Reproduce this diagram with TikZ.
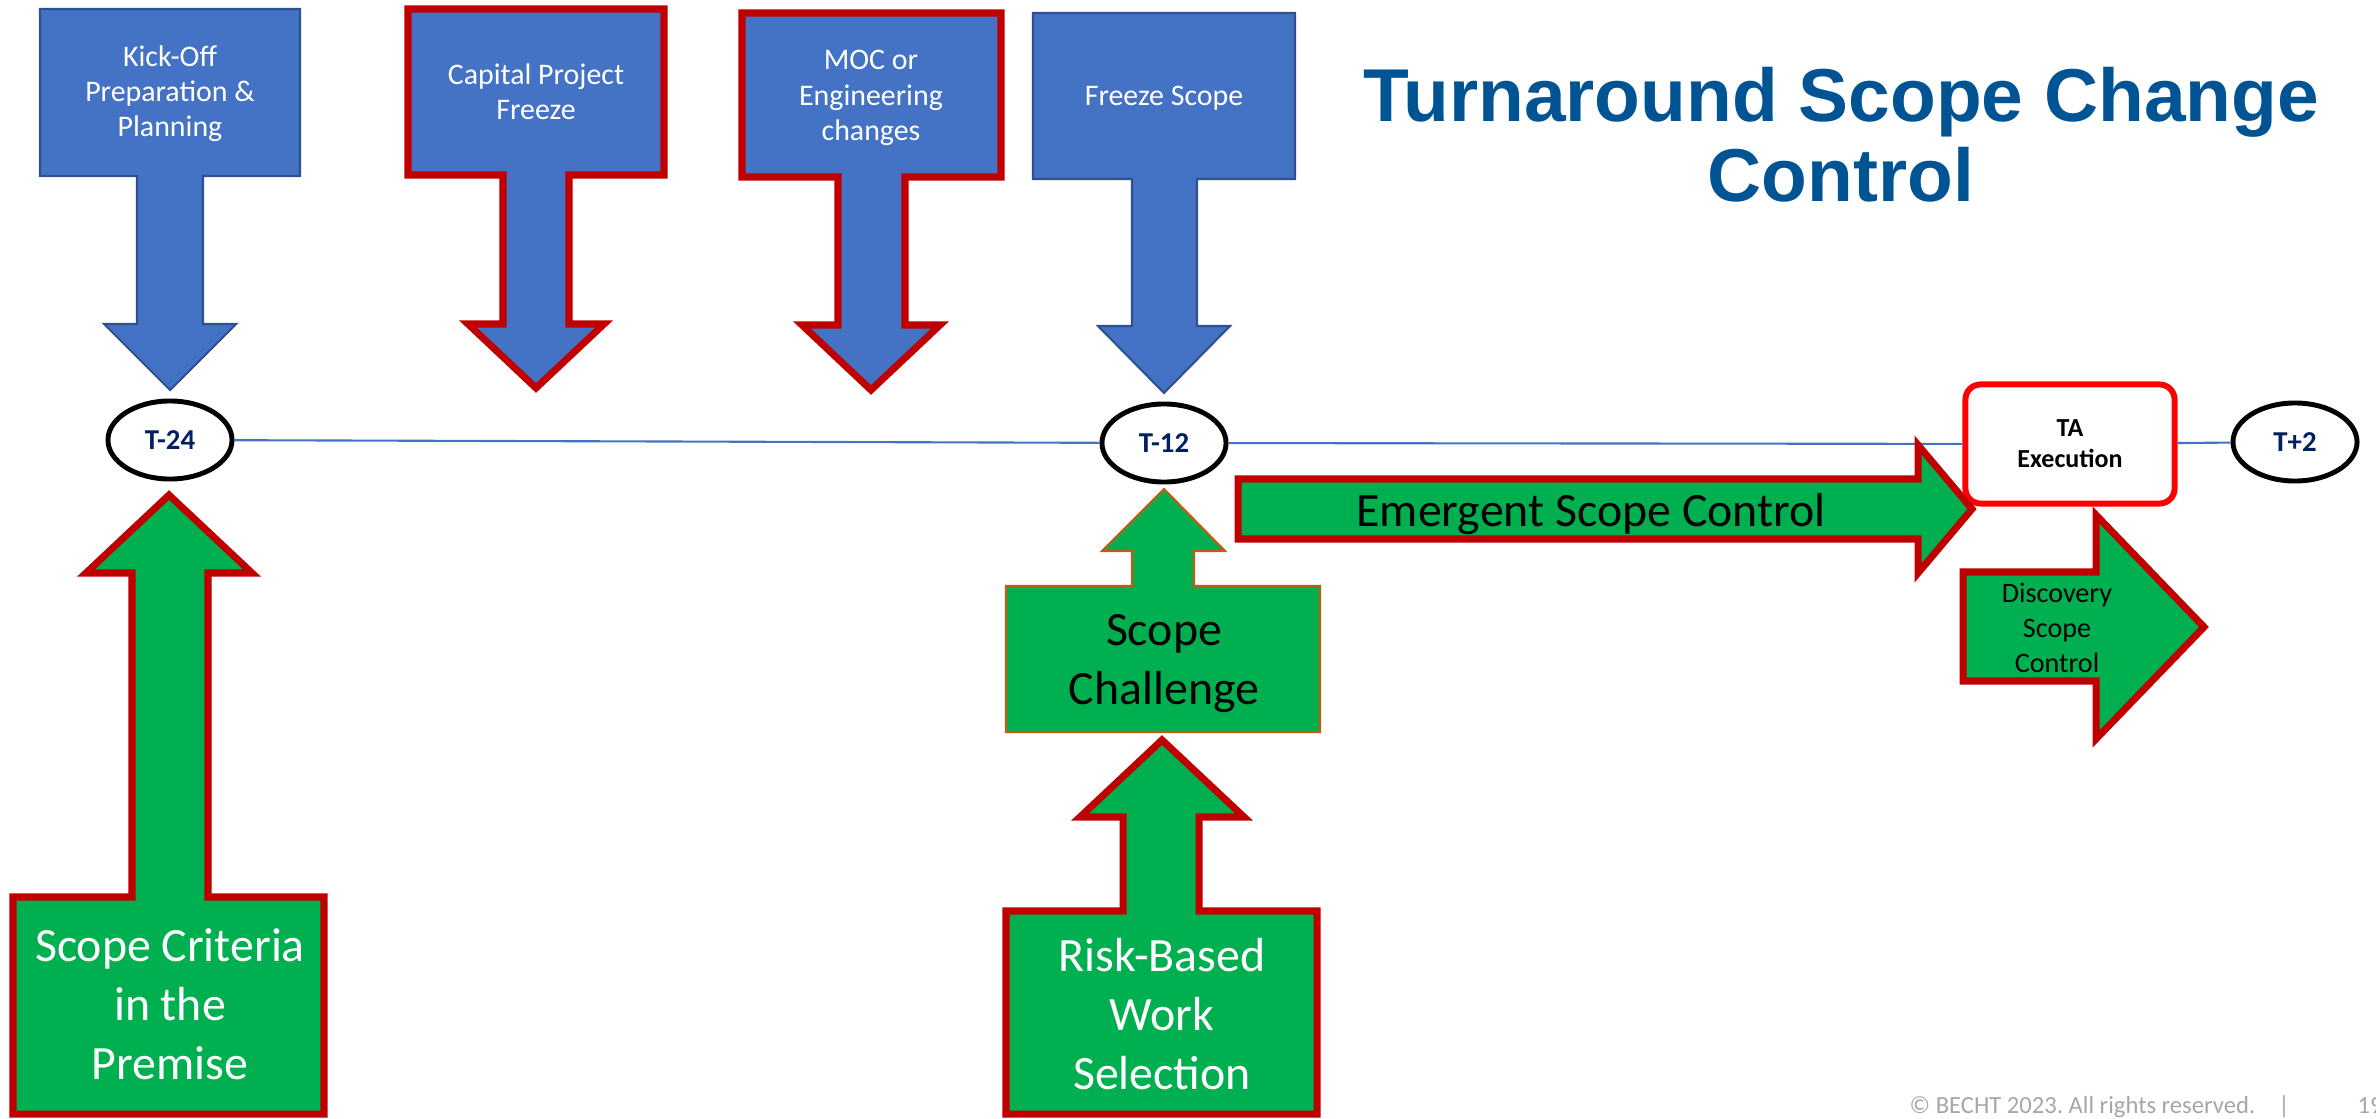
\documentclass[tikz,border=0pt]{standalone}
\usepackage{fontspec}
\setmainfont{Carlito}
\newfontfamily\titlefont{Liberation Sans}
\usetikzlibrary{shapes.geometric}
\definecolor{boxblue}{HTML}{4472C4}
\definecolor{edgeblue}{HTML}{2F528F}
\definecolor{scopegreen}{HTML}{00B050}
\definecolor{darkred}{HTML}{C00000}
\definecolor{brightred}{HTML}{FF0000}
\definecolor{rust}{HTML}{C55A11}
\definecolor{titleblue}{RGB}{0,84,148}
\definecolor{navy}{RGB}{0,32,96}
\definecolor{footgray}{HTML}{A6A6A6}
\tikzset{
  bluecallout/.style={fill=boxblue, draw=edgeblue, line width=0.6pt},
  redcallout/.style={fill=boxblue, draw=darkred, line width=2pt},
  greencallout/.style={fill=scopegreen, draw=darkred, line width=2pt},
  challengebox/.style={fill=scopegreen, draw=rust, line width=0.6pt},
  milestone/.style={ellipse, draw=black, fill=white, line width=1.4pt,
    minimum width=1.24cm, minimum height=0.78cm, inner sep=0pt,
    font=\fontsize{8.2}{9}\selectfont\bfseries, text=navy},
  timeline/.style={draw=boxblue, line width=0.6pt},
  smalltext/.style={align=center, text=white, font=\fontsize{8.5}{10}\selectfont},
  bigtext/.style={align=center, font=\fontsize{13.6}{16.8}\selectfont},
  foottext/.style={text=footgray, inner sep=0pt, font=\fontsize{7}{8}\selectfont}
}
\begin{document}
\frenchspacing
\begin{tikzpicture}[x=0.01cm, y=-0.01cm]
    \useasboundingbox (0,0) rectangle (2376,1118);
    % time line
    \node[milestone] (t24) at ( 170,440) {T-24};
    \node[milestone] (t12) at (1164,443) {T-12};
    \node[milestone] (t2)  at (2295,442) {T+2};
    \node[draw=brightred, fill=white, line width=1.7pt, rounded corners=0.15cm,
          minimum width=2.09cm, minimum height=1.19cm, align=center,
          font=\fontsize{7.4}{8.8}\selectfont\bfseries] (ta) at (2070,444) {TA\\Execution};
    \draw[timeline] (t24) -- (t12);
    \draw[timeline] (t12) -- (ta);
    \draw[timeline] (ta)  -- (t2);
    % callouts from above
    \draw[bluecallout] (40,9) -- (300,9) -- (300,176) -- (203,176) -- (203,324) -- (236,324)
        -- (170,390) -- (104,324) -- (137,324) -- (137,176) -- (40,176) -- cycle;
    \draw[redcallout] (408,9) -- (664,9) -- (664,175) -- (569,175) -- (569,324) -- (604,324)
        -- (536,388) -- (468,324) -- (503,324) -- (503,175) -- (408,175) -- cycle;
    \draw[redcallout] (742,13) -- (1001,13) -- (1001,177) -- (905,177) -- (905,325) -- (940,325)
        -- (871,390) -- (802,325) -- (838,325) -- (838,177) -- (742,177) -- cycle;
    \draw[bluecallout] (1033,13) -- (1295,13) -- (1295,179) -- (1197,179) -- (1197,326) -- (1230,326)
        -- (1164,393) -- (1098,326) -- (1132,326) -- (1132,179) -- (1033,179) -- cycle;
    % callouts from below
    \draw[greencallout] (13,1114) -- (324,1114) -- (324,897) -- (208,897) -- (208,573) -- (252,573)
        -- (169,495) -- (86,573) -- (132,573) -- (132,897) -- (13,897) -- cycle;
    \draw[greencallout] (1006,1114) -- (1317,1114) -- (1317,911) -- (1199,911) -- (1199,817) -- (1244,817)
        -- (1162,740) -- (1080,817) -- (1123,817) -- (1123,911) -- (1006,911) -- cycle;
    \draw[challengebox] (1006,732) -- (1320,732) -- (1320,586) -- (1194,586) -- (1194,551) -- (1225,551)
        -- (1164,489) -- (1102,551) -- (1132,551) -- (1132,586) -- (1006,586) -- cycle;
    % callouts to the right
    \draw[greencallout] (1238,479) -- (1918,479) -- (1918,445) -- (1972,509) -- (1918,573)
        -- (1918,539) -- (1238,539) -- cycle;
    \draw[greencallout] (1963,572) -- (2096,572) -- (2096,515) -- (2204,627) -- (2096,739)
        -- (2096,681) -- (1963,681) -- cycle;
    % texts
    \node[smalltext] (kickoff) at ( 170,94) {Kick-Off\\Preparation \&\\Planning};
    \node[smalltext] (capital) at ( 536,92) {Capital Project\\Freeze};
    \node[smalltext] (moc)     at ( 871,98) {MOC or\\Engineering\\changes};
    \node[smalltext] (freeze)  at (1164,98) {Freeze Scope};
    \node[bigtext, text=white] (criteria)  at ( 170,1004) {Scope Criteria\\in the\\Premise};
    \node[bigtext, text=white] (riskbased) at (1162,1014) {Risk-Based\\Work\\Selection};
    \node[bigtext] (challenge) at (1164,664) {Scope\\Challenge};
    \node[bigtext, anchor=base] (emergent) at (1591,526) {Emergent Scope Control};
    \node[align=center, font=\fontsize{8}{10}\selectfont] (discovery) at (2057,628) {Discovery\\Scope\\Control};
    \node[text=titleblue, align=center, font=\titlefont\bfseries\fontsize{21.3}{22.8}\selectfont]
        (title) at (1841,135) {Turnaround Scope Change\\Control};
    % footer
    \node[foottext, anchor=base west] (copyright) at (1909,1113) {© BECHT 2023. All rights reserved.};
    \node[foottext, anchor=base]      (bar)       at (2284,1113) {|};
    \node[foottext, anchor=base west] (page)      at (2357,1113) {19};
\end{tikzpicture}
\end{document}
